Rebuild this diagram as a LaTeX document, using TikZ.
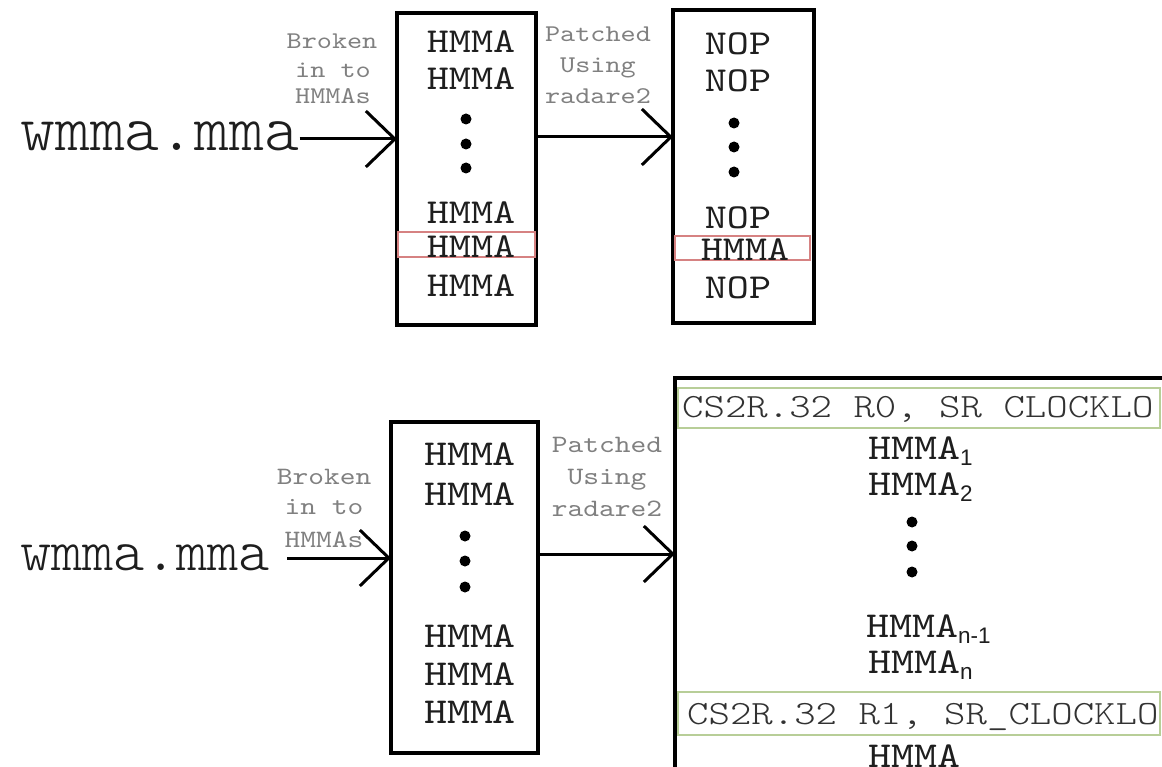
\documentclass[tikz,border=0pt]{standalone}
\usepackage{fontspec}
\setmainfont{Liberation Serif}
% slab-serif typewriter faces: widened cuts for listings, a plain light cut for file names
\newfontfamily\courf{lmmono10-regular.otf}[FakeStretch=1.2]
\newfontfamily\courlt{lmmonolt10-regular.otf}[FakeStretch=1.2]
\newfontfamily\widef{lmmonolt10-regular.otf}
\newfontfamily\sansf{Liberation Sans}
\usetikzlibrary{arrows.meta}

\definecolor{lblgray}{RGB}{128,128,128}
\definecolor{hlred}{RGB}{214,130,130}
\definecolor{hlgreen}{RGB}{184,206,152}
\definecolor{codegray}{RGB}{50,50,50}
\definecolor{ink}{RGB}{30,30,30}

% subscript index set in a sans face, dropped below the baseline
\newcommand\hsub[1]{\raisebox{-6pt}{\sansf\fontsize{22.5}{22.5}\selectfont #1}}

\begin{document}
\begin{tikzpicture}[x=1pt,y=-1pt,
  box/.style={draw, line width=3.5pt, inner sep=0pt, outer sep=0pt},
  redbox/.style={draw=hlred, line width=2.5pt, inner sep=0pt, outer sep=0pt, anchor=north west},
  greenbox/.style={draw=hlgreen, line width=2.8pt, inner sep=0pt, outer sep=0pt, anchor=north west},
  flow/.style={line width=3pt, -{Straight Barb[length=29pt,width=56pt]}},
  srcname/.style={inner sep=0pt, anchor=base west, text=ink},
  insA/.style={font=\courf\fontsize{35}{35}\selectfont, inner sep=0pt, anchor=base, text=ink},
  insB/.style={font=\courf\fontsize{36.5}{36.5}\selectfont, inner sep=0pt, anchor=base, text=ink},
  insC/.style={font=\courf\fontsize{36.5}{36.5}\selectfont, inner sep=0pt, anchor=base west, text=ink},
  code/.style={font=\courlt\fontsize{34}{34}\selectfont, inner sep=0pt, anchor=base west, text=codegray},
  lblA/.style={font=\courf\fontsize{24}{24}\selectfont, inner sep=0pt, anchor=base, text=lblgray},
  lblB/.style={font=\courf\fontsize{25}{25}\selectfont, inner sep=0pt, anchor=base, text=lblgray},
  dot/.style={circle, fill=black, inner sep=0pt, minimum size=11pt}
]
\useasboundingbox (0,0) rectangle (1162,767);
\fill[white] (0,0) rectangle (1162,767);
\clip (0,0) rectangle (1162,767);

% ---------- upper chain: split into HMMAs, then NOP-patched ----------
\node[srcname, font=\widef\fontsize{66.5}{66.5}\selectfont] (w1) at (20,151) {wmma.mma};

\node[box, minimum width=139pt, minimum height=312pt] (b1) at (466.5,169) {};
\node[box, minimum width=141pt, minimum height=313pt] (b2) at (743.5,166.5) {};

\coordinate (y1) at (0,139);
\coordinate (y2) at (0,137);
\draw[flow] (w1.east |- y1) -- (b1.west |- y1);
\draw[flow] (b1.east |- y2) -- (b2.west |- y2);

\node[lblA] (l1a) at (332,49) {Broken};
\node[lblA] (l1b) at (333,78) {in to};
\node[lblA] (l1c) at (333,104) {HMMAs};
\node[lblA] (l2a) at (598,42) {Patched};
\node[lblA] (l2b) at (598,73) {Using};
\node[lblA] (l2c) at (598,104) {radare2};

% original sequence
\node[redbox, minimum width=137pt, minimum height=25pt] (r1) at (398,232) {};
\node[insA] (h11) at (471,53) {HMMA};
\node[insA] (h12) at (471,90) {HMMA};
\node[dot] (d11) at (466,119) {};
\node[dot] (d12) at (466,144) {};
\node[dot] (d13) at (466,168) {};
\node[insA] (h13) at (471,224) {HMMA};
\node[insA] (h14) at (471,258) {HMMA};
\node[insA] (h15) at (471,297) {HMMA};

% patched sequence, one HMMA kept
\node[redbox, minimum width=135pt, minimum height=24pt] (r2) at (675,236) {};
\node[insA] (n21) at (738,55) {NOP};
\node[insA] (n22) at (738,92) {NOP};
\node[dot] (d21) at (734,123) {};
\node[dot] (d22) at (734,147) {};
\node[dot] (d23) at (734,172) {};
\node[insA] (n23) at (738,229) {NOP};
\node[insA] (h24) at (745,261) {HMMA};
\node[insA] (n25) at (738,299) {NOP};

% ---------- lower chain: HMMAs wrapped by clock reads ----------
\node[srcname, font=\widef\fontsize{59.5}{59.5}\selectfont] (w2) at (20,570) {wmma.mma};

\node[box, minimum width=147pt, minimum height=331pt] (b3) at (464.5,587.5) {};
\node[box, anchor=north west, minimum width=560pt, minimum height=450pt] (b4) at (675,378) {};

\coordinate (y3) at (0,558);
\coordinate (y4) at (0,554);
\draw[flow] ([xshift=17pt]w2.east |- y3) -- (b3.west |- y3);
\draw[flow] (b3.east |- y4) -- (b4.west |- y4);

\node[lblB] (l3a) at (324,484) {Broken};
\node[lblB] (l3b) at (324,514) {in to};
\node[lblB] (l3c) at (324,547) {HMMAs};
\node[lblB] (l4a) at (607,452) {Patched};
\node[lblB] (l4b) at (607,484) {Using};
\node[lblB] (l4c) at (607,516) {radare2};

\node[insB] (h31) at (470,465) {HMMA};
\node[insB] (h32) at (470,505) {HMMA};
\node[dot] (d31) at (465,536) {};
\node[dot] (d32) at (465,561) {};
\node[dot] (d33) at (465,587) {};
\node[insB] (h33) at (470,647) {HMMA};
\node[insB] (h34) at (470,685) {HMMA};
\node[insB] (h35) at (470,723) {HMMA};

% timed region
\node[greenbox, minimum width=482pt, minimum height=40pt] (g1) at (678,388) {};
\node[code] (c1) at (682,417) {CS2R.32 R0, SR CLOCKLO};
\node[insC] (h41) at (868,459) {HMMA\hsub{1}};
\node[insC] (h42) at (868,495) {HMMA\hsub{2}};
\node[dot] (d41) at (912,522) {};
\node[dot] (d42) at (912,546) {};
\node[dot] (d43) at (912,572) {};
\node[insC] (h43) at (866,637) {HMMA\hsub{n-1}};
\node[insC] (h44) at (868,673) {HMMA\hsub{n}};
\node[greenbox, minimum width=482pt, minimum height=43pt] (g2) at (678,692) {};
\begin{scope}
  \clip (678,692) rectangle (1159,735);
  \node[code] (c2) at (687,724) {CS2R.32 R1, SR\_CLOCKLO};
\end{scope}
\node[insC] (h45) at (868,767) {HMMA};
\end{tikzpicture}
\end{document}
